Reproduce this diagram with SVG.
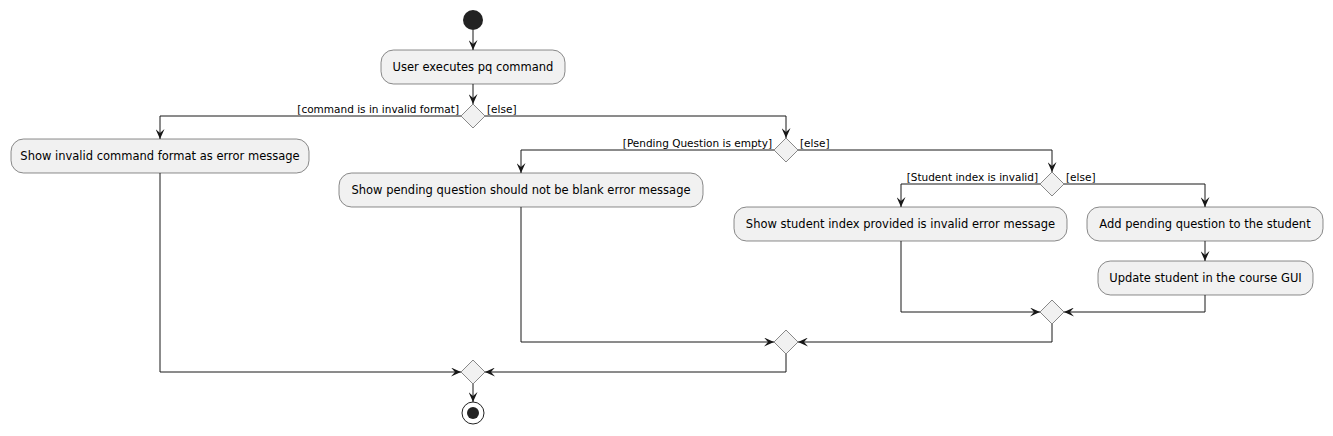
<svg xmlns="http://www.w3.org/2000/svg" width="1333" height="436" viewBox="0 0 1333 436">
<style>
.box{fill:#F1F1F1;stroke:#181818;stroke-width:0.5}
.dia{fill:#F1F1F1;stroke:#181818;stroke-width:0.5}
.t{font-family:"DejaVu Sans",Verdana,sans-serif;font-size:11.5px;fill:#000}
.g{font-family:"DejaVu Sans",Verdana,sans-serif;font-size:10.5px;fill:#000}
.c{fill:none;stroke:#181818;stroke-width:1}
</style>
<defs>
<marker id="arr" markerUnits="userSpaceOnUse" markerWidth="10" markerHeight="9" refX="10" refY="4.5" orient="auto" viewBox="0 0 10 9">
<path d="M0,0 L10,4.5 L0,9 L4,4.5 Z" fill="#181818"/>
</marker>
</defs>
<g id="start"><circle cx="473" cy="20" r="10" fill="#222222"/></g>
<g id="n1"><rect class="box" x="381" y="50" width="184" height="34" rx="12.5"/><text class="t" x="473" y="71" text-anchor="middle">User executes pq command</text></g>
<g id="d1"><polygon class="dia" points="473,104 485,116 473,128 461,116"/><text class="g" x="459" y="113" text-anchor="end">[command is in invalid format]</text><text class="g" x="487" y="113">[else]</text></g>
<g id="n2"><rect class="box" x="11" y="139" width="298" height="34" rx="12.5"/><text class="t" x="160" y="160" text-anchor="middle">Show invalid command format as error message</text></g>
<g id="d2"><polygon class="dia" points="786,138 798,150 786,162 774,150"/><text class="g" x="772" y="147" text-anchor="end">[Pending Question is empty]</text><text class="g" x="800" y="147">[else]</text></g>
<g id="n3"><rect class="box" x="339" y="173" width="364" height="34" rx="12.5"/><text class="t" x="521" y="194" text-anchor="middle">Show pending question should not be blank error message</text></g>
<g id="d3"><polygon class="dia" points="1052,172 1064,184 1052,196 1040,184"/><text class="g" x="1038" y="181" text-anchor="end">[Student index is invalid]</text><text class="g" x="1066" y="181">[else]</text></g>
<g id="n4"><rect class="box" x="734" y="207" width="333" height="34" rx="12.5"/><text class="t" x="900.5" y="228" text-anchor="middle">Show student index provided is invalid error message</text></g>
<g id="n5"><rect class="box" x="1087" y="207" width="236" height="34" rx="12.5"/><text class="t" x="1205" y="228" text-anchor="middle">Add pending question to the student</text></g>
<g id="n6"><rect class="box" x="1098" y="261" width="215" height="34" rx="12.5"/><text class="t" x="1205.5" y="282" text-anchor="middle">Update student in the course GUI</text></g>
<g id="m3"><polygon class="dia" points="1052,300 1064,312 1052,324 1040,312"/></g>
<g id="m2"><polygon class="dia" points="786,330 798,342 786,354 774,342"/></g>
<g id="m1"><polygon class="dia" points="473,360 485,372 473,384 461,372"/></g>
<g id="end"><circle cx="473" cy="413" r="11" fill="none" stroke="#222222" stroke-width="1"/><circle cx="473" cy="413" r="6" fill="#222222"/></g>
<g id="connectors" class="c">
<path class="c" d="M473,30 V50" marker-end="url(#arr)"/>
<path class="c" d="M473,84 V104" marker-end="url(#arr)"/>
<path class="c" d="M461,116 H160 V139" marker-end="url(#arr)"/>
<path class="c" d="M485,116 H786 V138" marker-end="url(#arr)"/>
<path class="c" d="M774,150 H521 V173" marker-end="url(#arr)"/>
<path class="c" d="M798,150 H1052 V172" marker-end="url(#arr)"/>
<path class="c" d="M1040,184 H901 V207" marker-end="url(#arr)"/>
<path class="c" d="M1064,184 H1205 V207" marker-end="url(#arr)"/>
<path class="c" d="M1205,241 V261" marker-end="url(#arr)"/>
<path class="c" d="M901,241 V312 H1040" marker-end="url(#arr)"/>
<path class="c" d="M1205,295 V312 H1064" marker-end="url(#arr)"/>
<path class="c" d="M521,207 V342 H774" marker-end="url(#arr)"/>
<path class="c" d="M1052,324 V342 H798" marker-end="url(#arr)"/>
<path class="c" d="M160,173 V372 H461" marker-end="url(#arr)"/>
<path class="c" d="M786,354 V372 H485" marker-end="url(#arr)"/>
<path class="c" d="M473,384 V402" marker-end="url(#arr)"/>
</g>
</svg>
